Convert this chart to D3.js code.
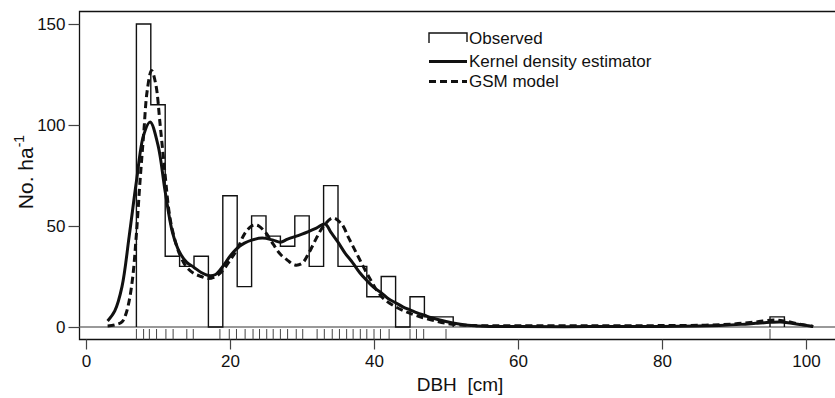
<!DOCTYPE html>
<html><head><meta charset="utf-8">
<script src="https://cdn.jsdelivr.net/npm/d3@7"></script>
<style>
html,body{margin:0;padding:0;background:#fff;}
text{font-family:"Liberation Sans",Arial,sans-serif;fill:#111;}
</style></head>
<body>
<svg id="chart" width="835" height="398"></svg>
<script>
// ---- data ----
const binStarts = [7,9,11,13,15,17,19,21,23,25,27,29,31,33,35,37,39,41,43,45,47,49];
const binCounts = [150,110,35,30,35,0,65,20,55,45,40,55,30,70,30,30,15,25,0,15,5,5];
const binWidth = 2;
const tailBinStarts = [95];
const tailBinCounts = [5];

const kdeX = [3,4,5,6,7,8,8.9,10,11,12,13,14,15,16,17,18,19,20,21,22,23,24.5,26,27,28,30,32,33.2,34,35,36,37,38,39,40,41,42,43,44,45,46,47,48,50,52,54,56,60,70,80,85,88,91,93,95,96.5,98,100,101];
const kdeY = [3,8,20,45,72,95,101.5,90,67,47,37,32,29.5,27,25.5,26,30,35,39,41.5,43,44,43,42,43.5,46,49,51,47,42,36.5,32,27,23,19.5,17,14,12,10,8.5,7,5.8,4.6,2.7,1.4,0.6,0.3,0.2,0.2,0.3,0.5,0.8,1.3,1.8,2.3,2.5,1.8,0.8,0.3];

const gsmX = [3,4,5,5.5,6,6.5,7,7.5,8,8.5,9.1,9.7,10.3,11,11.5,12,13,14,15,16,17,18,19,20,21,22,23,23.5,24,25,26,27,28,29,30,31,32,33,34.3,35.5,36.5,37.5,38.5,39.5,40.5,41.5,43,44.5,46,48,50,52,54,60,70,80,86,90,93,95.5,97,99,101];
const gsmY = [0.5,1,2.5,6,13,25,46,72,95,117,127,120,100,75,58,48,36,29.5,26.5,25,24,25,28,33,38.5,46,50,50.5,50,46.5,41,36,33,30.7,31.5,37,44,50,54,51,44,37,30,23.5,17.5,13.5,10,7.5,5.5,3.5,1.8,1,0.7,0.6,0.6,0.7,0.9,1.5,2.5,3.5,3,1.5,0.3];

const rugValues = [7,8,8.8,9.8,11.1,12.1,14,14.9,18.6,19.9,20.9,22.1,23.2,24.1,25.1,26,27,28,29.2,30.1,32.1,33.1,34.2,35.2,36.2,37.1,38.1,39,40,40.9,42.1,45,45.9,46.9,50,95];

const xTicks = [0,20,40,60,80,100];
const yTicks = [0,50,100,150];
const legendLabels = ["Observed","Kernel density estimator","GSM model"];

// ---- layout ----
const svg = d3.select("#chart");
const boxL = 79.5, boxT = 11.5, boxB = 339.5, boxR = 840;
const x = d3.scaleLinear().domain([0,100]).range([86,806]);
const y = d3.scaleLinear().domain([0,150]).range([327,24]);

// box
svg.append("path")
  .attr("d", `M${boxR},${boxT}H${boxL}V${boxB}H${boxR}`)
  .attr("fill","none").attr("stroke","#111").attr("stroke-width",1.3);

// zero line
svg.append("line")
  .attr("x1",boxL).attr("x2",boxR).attr("y1",y(0)).attr("y2",y(0))
  .attr("stroke","#777").attr("stroke-width",1.3);

// rug
svg.append("g").selectAll("line").data(rugValues).join("line")
  .attr("x1",d=>x(d)).attr("x2",d=>x(d))
  .attr("y1",y(0)+2).attr("y2",boxB)
  .attr("stroke","#444").attr("stroke-width",1);

// x axis
const xAxis = d3.axisBottom(x).tickValues(xTicks).tickSize(10).tickPadding(5);
const gx = svg.append("g").attr("transform",`translate(0,${boxB})`).call(xAxis);
gx.select(".domain").remove();
gx.selectAll(".tick line").attr("stroke","#444").attr("stroke-width",1.2);
gx.selectAll(".tick text").style("font-size","17px").attr("fill","#111");

// y axis
const yAxis = d3.axisLeft(y).tickValues(yTicks).tickSize(11).tickPadding(3);
const gy = svg.append("g").attr("transform",`translate(${boxL},0)`).call(yAxis);
gy.select(".domain").remove();
gy.selectAll(".tick line").attr("stroke","#444").attr("stroke-width",1.2);
gy.selectAll(".tick text").style("font-size","17px").attr("fill","#111");

// histogram outline (step)
function stepPath(starts, counts){
  const pts = [[starts[0],0]];
  starts.forEach((s,i)=>{ pts.push([s,counts[i]]); pts.push([s+binWidth,counts[i]]); });
  pts.push([starts[starts.length-1]+binWidth,0]);
  return d3.line().x(d=>x(d[0])).y(d=>y(d[1]))(pts);
}
svg.append("path").attr("d", stepPath(binStarts,binCounts))
  .attr("fill","none").attr("stroke","#111").attr("stroke-width",1.4);
svg.append("path").attr("d", stepPath(tailBinStarts,tailBinCounts))
  .attr("fill","none").attr("stroke","#111").attr("stroke-width",1.4);

// curves
const line = d3.line().x(d=>x(d[0])).y(d=>y(d[1])).curve(d3.curveCatmullRom.alpha(0.5));
svg.append("path").attr("d", line(kdeX.map((v,i)=>[v,kdeY[i]])))
  .attr("fill","none").attr("stroke","#111").attr("stroke-width",3);
svg.append("path").attr("d", line(gsmX.map((v,i)=>[v,gsmY[i]])))
  .attr("fill","none").attr("stroke","#111").attr("stroke-width",3)
  .attr("stroke-dasharray","7,4");

// legend
const lg = svg.append("g");
const lx0 = 429, lx1 = 467, ly = [33,61.5,81.5];
lg.append("path").attr("d",`M${lx0},${ly[0]+10}V${ly[0]}H${lx1}V${ly[0]+9}`)
  .attr("fill","none").attr("stroke","#111").attr("stroke-width",1.4);
lg.append("line").attr("x1",lx0).attr("x2",lx1).attr("y1",ly[1]).attr("y2",ly[1])
  .attr("stroke","#111").attr("stroke-width",3);
lg.append("line").attr("x1",lx0).attr("x2",lx1).attr("y1",ly[2]).attr("y2",ly[2])
  .attr("stroke","#111").attr("stroke-width",3).attr("stroke-dasharray","7,4");
lg.selectAll("text").data(legendLabels).join("text")
  .attr("x",469).attr("y",(d,i)=>[38,61.5,81.5][i]).attr("dy","0.35em")
  .style("font-size","17px").text(d=>d);

// axis titles
svg.append("text").attr("x",460).attr("y",391).attr("text-anchor","middle")
  .style("font-size","19px").style("white-space","pre").text("DBH  [cm]");
const yl = svg.append("text").attr("transform","translate(33,172) rotate(-90)")
  .attr("text-anchor","middle").style("font-size","21px");
yl.append("tspan").text("No. ha");
yl.append("tspan").attr("dy","-9").style("font-size","14px").text("-1");
</script>
</body></html>
